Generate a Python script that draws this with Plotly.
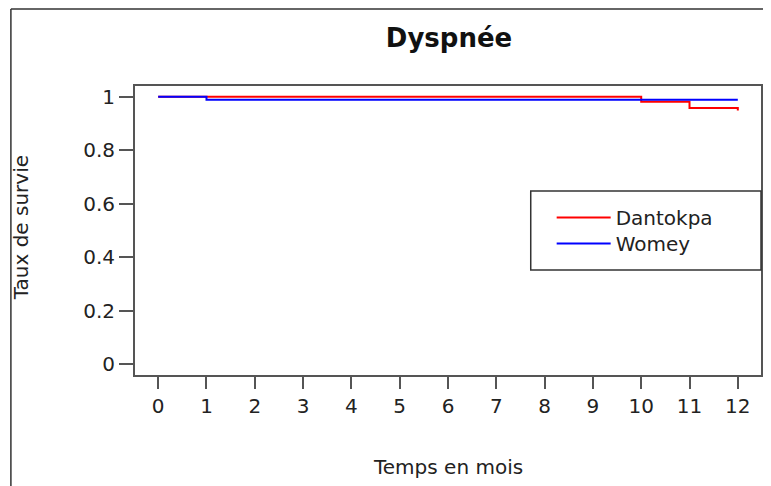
import plotly.graph_objects as go

# Data
dantokpa_t = [0, 10, 11, 12]
dantokpa_s = [1.0, 0.981, 0.958, 0.948]
womey_t = [0, 1, 12]
womey_s = [1.0, 0.989, 0.989]
x_ticks = list(range(0, 13))
y_ticks = [0, 0.2, 0.4, 0.6, 0.8, 1.0]
y_ticktext = ["0", "0.2", "0.4", "0.6", "0.8", "1"]

FONT = "DejaVu Sans"
AX = "#555555"
OFF = 8  # page body margin

fig = go.Figure()
fig.add_trace(go.Scatter(x=dantokpa_t, y=dantokpa_s, mode="lines", line_shape="hv",
                         name="Dantokpa", legend="legend",
                         line=dict(color="#FF0000", width=2)))
fig.add_trace(go.Scatter(x=womey_t, y=womey_s, mode="lines", line_shape="hv",
                         name="Womey", legend="legend2",
                         line=dict(color="#0000FF", width=2)))

# reference-pixel layout
RL, RR, RT, RB = 135, 763, 86, 375
W, H = 771 - OFF, 486 - OFF
L, T = RL - OFF, RT - OFF
R = W - (RR - OFF)
B = H - (RB - OFF)
pw, ph = W - L - R, H - T - B

def px(x):
    return (x - RL) / pw

def py(y):
    return (RB - y) / ph

leg_common = dict(xanchor="left", yanchor="top", bgcolor="rgba(0,0,0,0)", borderwidth=0,
                  font=dict(size=20, family=FONT, color="#222222"), itemwidth=54)

fig.update_layout(
    width=W, height=H,
    margin=dict(l=L, r=R, t=T, b=B, pad=0),
    plot_bgcolor="white", paper_bgcolor="white",
    font=dict(family=FONT, color="#222222"),
    showlegend=True,
    legend=dict(x=px(553), y=py(198), **leg_common),
    legend2=dict(x=px(553), y=py(224), **leg_common),
    title=dict(text="<b>Dyspnée</b>", x=((RL + RR) / 2 - OFF) / W, xanchor="center",
               y=1 - (38 - OFF) / H, yanchor="middle", yref="container",
               font=dict(size=26, family=FONT, color="#111111")),
)

fig.update_xaxes(range=[-0.48, 12.48], tickvals=x_ticks, ticks="outside", ticklen=12,
                 tickwidth=1.5, tickcolor=AX, showgrid=False, zeroline=False,
                 showline=True, linecolor=AX, linewidth=2, mirror=True,
                 tickfont=dict(size=20, family=FONT, color="#222222"))
fig.update_yaxes(range=[-0.04, 1.04], tickvals=y_ticks, ticktext=y_ticktext,
                 ticks="outside", ticklen=14, tickwidth=1.5, tickcolor=AX,
                 showgrid=False, zeroline=False, showline=True, linecolor=AX,
                 linewidth=2, mirror=True,
                 tickfont=dict(size=20, family=FONT, color="#222222"))

# Axis titles
fig.add_annotation(text="Temps en mois", x=0.5, y=py(467), xref="paper", yref="paper",
                   showarrow=False, xanchor="center", yanchor="middle",
                   font=dict(size=20, family=FONT, color="#222222"))
fig.add_annotation(text="Taux de survie", x=px(21), y=py(228), xref="paper", yref="paper",
                   showarrow=False, textangle=-90, xanchor="center", yanchor="middle",
                   font=dict(size=20, family=FONT, color="#222222"))

# Legend box
fig.add_shape(type="rect", xref="paper", yref="paper",
              x0=px(532), x1=1.0, y0=py(270), y1=py(191),
              line=dict(color="#333333", width=1.5), fillcolor="rgba(0,0,0,0)")

# Outer frame (left and top edges of the original figure border)
TOPY = 9
fig.add_shape(type="line", xref="paper", yref="paper",
              x0=px(10.5), x1=px(10.5), y0=py(486), y1=py(TOPY),
              line=dict(color="#333333", width=1.5))
fig.add_shape(type="line", xref="paper", yref="paper",
              x0=px(10.5), x1=px(771), y0=py(TOPY), y1=py(TOPY),
              line=dict(color="#333333", width=1.5))

fig.write_html("out.html")
